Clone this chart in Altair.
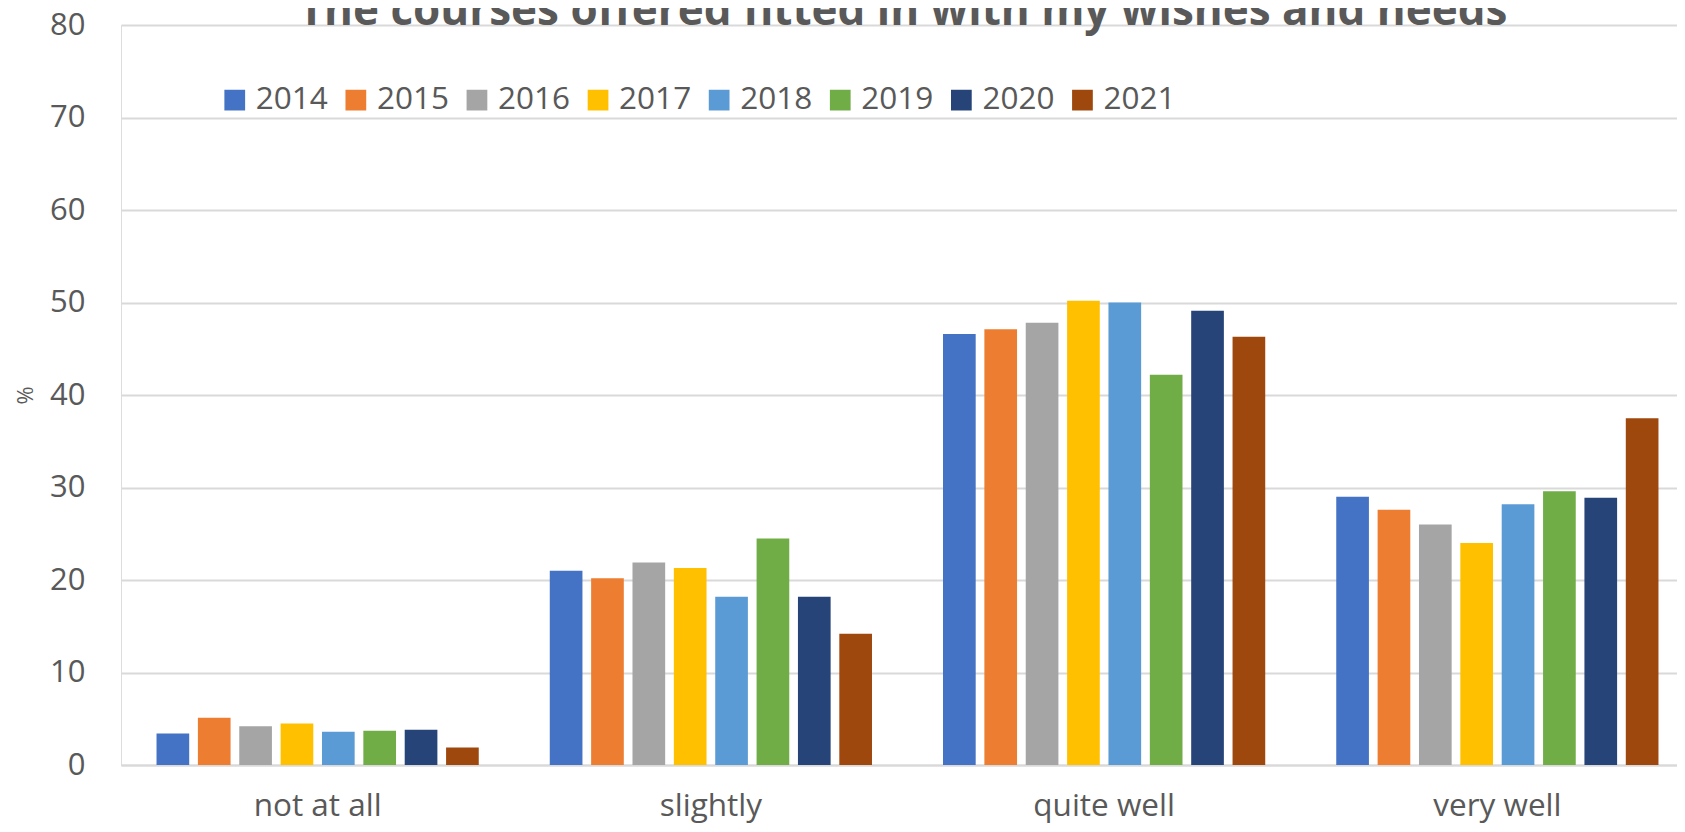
import altair as alt
import pandas as pd

categories = ["not at all", "slightly", "quite well", "very well"]
years = ["2014", "2015", "2016", "2017", "2018", "2019", "2020", "2021"]
colors = ["#4472C4", "#ED7D31", "#A5A5A5", "#FFC000", "#5B9BD5", "#70AD47", "#264478", "#9E480E"]
title_text = ["The courses offered fitted in with my wishes and needs"]

v2014 = [3.4, 21.0, 46.6, 29.0]
v2015 = [5.1, 20.2, 47.1, 27.6]
v2016 = [4.2, 21.9, 47.8, 26.0]
v2017 = [4.5, 21.3, 50.2, 24.0]
v2018 = [3.6, 18.2, 50.0, 28.2]
v2019 = [3.7, 24.5, 42.2, 29.6]
v2020 = [3.8, 18.2, 49.1, 28.9]
v2021 = [1.9, 14.2, 46.3, 37.5]

series = [v2014, v2015, v2016, v2017, v2018, v2019, v2020, v2021]
rows = []
for yr, vals in zip(years, series):
    for cat, v in zip(categories, vals):
        rows.append({"category": cat, "year": yr, "value": v})
df = pd.DataFrame(rows)
title_df = pd.DataFrame({"t": title_text})

FONT = "Open Sans"
GREY = "#595959"
GRID = "#d9d9d9"

bars = alt.Chart(df).mark_bar().encode(
    x=alt.X(
        "category:N",
        sort=categories,
        scale=alt.Scale(range=[0, 1573], paddingInner=0.1585, paddingOuter=0.0793),
        axis=alt.Axis(
            title=None, labelAngle=0, ticks=False, tickSize=0, labelPadding=50,
            labelBaseline="alphabetic", labelFontSize=31.5, labelColor=GREY, labelFont=FONT,
            domain=True, domainColor=GRID, domainWidth=2, grid=False,
        ),
    ),
    xOffset=alt.XOffset("year:N", sort=years, scale=alt.Scale(paddingInner=0.21, paddingOuter=0.105)),
    y=alt.Y(
        "value:Q",
        scale=alt.Scale(domain=[0, 80]),
        axis=alt.Axis(
            values=list(range(0, 81, 10)), title="%", titleAngle=270, titleX=-96, titleY=370,
            titleAlign="center", titleBaseline="middle", titleFontSize=22, titleFontWeight="normal",
            titleColor=GREY, titleFont=FONT, labelFontSize=31, labelColor=GREY, labelFont=FONT,
            labelPadding=36, ticks=False, tickSize=0, domain=False, grid=True,
            gridColor=GRID, gridWidth=2,
        ),
    ),
    color=alt.Color(
        "year:N",
        scale=alt.Scale(domain=years, range=colors),
        legend=alt.Legend(
            title=None, orient="none", legendX=98, legendY=59, direction="horizontal",
            symbolType="square", symbolSize=430, symbolStrokeWidth=0, labelFontSize=31.5,
            labelColor=GREY, labelFont=FONT, labelOffset=5.3, columnPadding=12.1, padding=0,
            columns=8,
        ),
    ),
)

title = alt.Chart(title_df).mark_text(
    font=FONT, fontSize=44, fontWeight="bold", color=GREY, align="center",
    baseline="alphabetic", clip=False,
).encode(text="t:N", x=alt.value(782), y=alt.value(0))

chart = alt.layer(bars, title).properties(
    width=1556,
    height=740,
    padding={"top": 17, "left": 113, "right": 0, "bottom": 59},
    autosize=alt.AutoSizeParams(type="none"),
).configure_view(stroke=None).configure(background="white")

chart.save("out.html", embed_options={"renderer": "svg", "actions": False})
